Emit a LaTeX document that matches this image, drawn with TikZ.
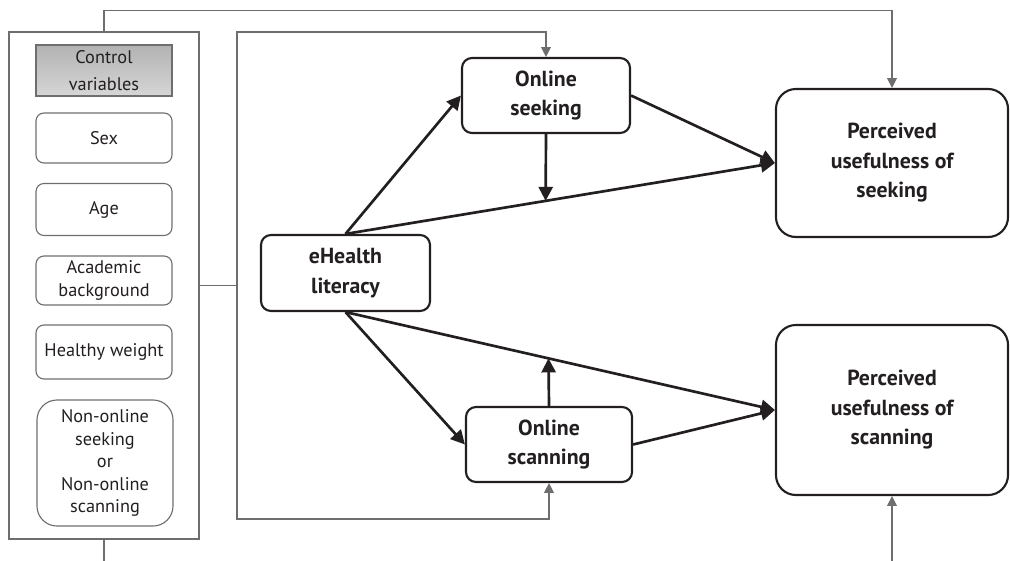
\documentclass[tikz,border=0pt]{standalone}
\usepackage{fontspec}
\setmainfont{PT Sans}
\usetikzlibrary{arrows.meta}
\definecolor{inkline}{HTML}{231F20}
\definecolor{ctrlgray}{HTML}{6E6E6E}
\tikzset{
  ctrlframe/.style={draw=ctrlgray, line width=0.9pt},
  ctrlbox/.style={draw=ctrlgray, line width=0.8pt, rounded corners=0.2cm,
                  minimum width=3.4cm, align=center, inner sep=1pt, text=inkline,
                  font=\fontsize{13}{16}\selectfont},
  ctrlhead/.style={ctrlbox, rounded corners=0pt, top color=black!30, bottom color=black!16,
                   font=\fontsize{13}{19}\selectfont},
  mainbox/.style={draw=inkline, line width=1.5pt, rounded corners=0.25cm,
                  minimum width=4.2cm, minimum height=1.875cm, align=center, text=inkline,
                  font=\bfseries\fontsize{15.5}{21}\selectfont},
  usebox/.style={mainbox, rounded corners=0.5cm, minimum width=5.8cm},
  pathline/.style={draw=ctrlgray, line width=0.8pt},
  patharrow/.style={pathline, -{Triangle[length=7pt,width=7pt]}},
  effect/.style={draw=inkline, line width=1.9pt, -{Triangle[length=10pt,width=10pt]}},
}
\begin{document}
\begin{tikzpicture}[x=0.025cm, y=-0.025cm]
  \useasboundingbox (0,0) rectangle (1010,560);
  \clip (0,0) rectangle (1010,560);

  \node[ctrlframe, minimum width=4.75cm, minimum height=12.675cm] (controls) at (104,285.5) {};
  \node[ctrlhead, minimum height=1.275cm] (head) at (104,70.5) {Control\\variables};
  \node[ctrlbox, minimum height=1.25cm] (sex) at (104,138) {Sex};
  \node[ctrlbox, minimum height=1.3cm] (age) at (104,209.5) {Age};
  \node[ctrlbox, minimum height=1.225cm] (academic) at (104,280.5) {Academic\\background};
  \node[ctrlbox, minimum height=1.35cm] (weight) at (104,352) {Healthy weight};
  \node[ctrlbox, rounded corners=0.5cm, minimum height=3.15cm] (nononline) at (105,463)
    {Non-online\\seeking\\or\\Non-online\\scanning};

  \node[mainbox, minimum width=4.225cm, minimum height=1.9cm] (ehealth) at (345.5,273) {eHealth\\literacy};
  \node[mainbox] (seeking) at (546,95.5) {Online\\seeking};
  \node[mainbox, minimum width=4.15cm] (scanning) at (549,444.5) {Online\\scanning};
  \node[usebox, minimum height=3.7cm] (useseek) at (892,163) {Perceived\\usefulness of\\seeking};
  \node[usebox, minimum height=4.25cm] (usescan) at (892,410) {Perceived\\usefulness of\\scanning};

  \coordinate (split) at (237,285.5);
  \coordinate (bendtop) at (237,32);
  \coordinate (bendbot) at (237,519);
  \draw[pathline] (controls.east) -- (split);
  \draw[patharrow] (split) -- (bendtop) -| (seeking.north);
  \draw[patharrow] (split) -- (bendbot) -| (scanning.south);
  \draw[patharrow] (controls.north) -- ++(0,-21) -| (useseek.north);
  \draw[patharrow] (controls.south) -- ++(0,45) -| (usescan.south);

  \draw[effect] (ehealth.north) -- (seeking.west);
  \draw[effect] (seeking.east) -- (useseek.west);
  \draw[effect] (ehealth.north) -- coordinate[pos=0.466] (meetseek) (useseek.west);
  \draw[effect] (seeking.south) -- (meetseek);
  \draw[effect] (ehealth.south) -- (scanning.west);
  \draw[effect] (scanning.east) -- (usescan.west);
  \draw[effect] (ehealth.south) -- coordinate[pos=0.4727] (meetscan) (usescan.west);
  \draw[effect] (scanning.north) -- (meetscan);
\end{tikzpicture}
\end{document}
